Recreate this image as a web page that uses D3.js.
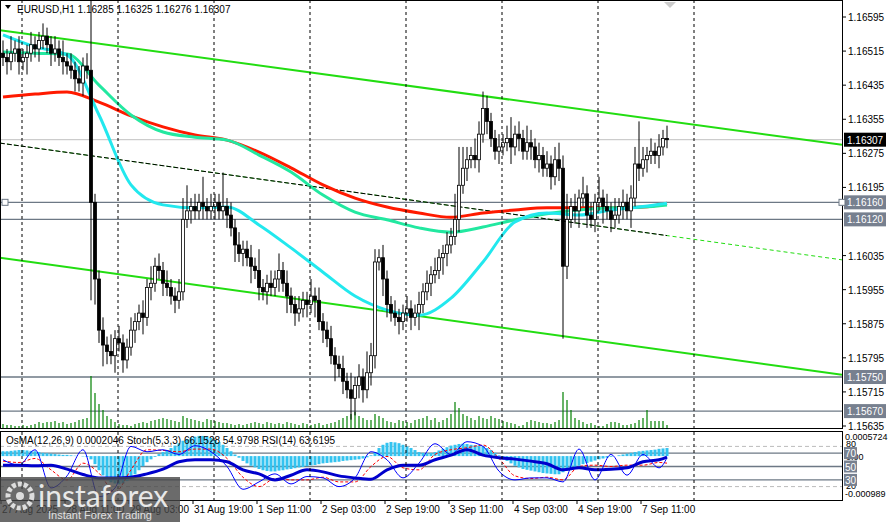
<!DOCTYPE html>
<html>
<head>
<meta charset="utf-8">
<script src="https://cdn.jsdelivr.net/npm/d3@7"></script>
<style>
  body { margin: 0; background: #fff; }
  svg { display: block; font-family: "Liberation Sans", Arial, sans-serif; }
</style>
</head>
<body>
<svg id="chart" width="888" height="522"></svg>
<script>
// prices are in pips above 1.15000
const closes = [150,149,151,152,149,150,151,153,152,154,155,153,151,152,150,149,
  148,147,145,144,148,147,
  116,98,86,82.5,
  81,80,84,83,79,82,
  86,88,90,89,96,97,101,100,97,96,94,93,95,112,114,
  115,114,116,115,114,115,116,114,115,113,
  110,106,104,105,103,
  101,100,96,95,97,96,98,
  100,97,94,92,
  90,91,93,92,94,93,
  88,86,84,80,78,77,74,72,
  70,73,75,72,76,80,102,103,98,92,
  90,89,88,90,91,89,90,92,
  95,97,99,100,103,104,
  106,108,112,120,124,126,
  127,126,132,138,135,131,128,129,
  130,131,129,132,131,128,130,129,126,127,124,125,122,126,124,
  101,112,
  115,114,117,118,113,112,116,117,115,114,112,113,115,116,114,117,
  125,124,126,127,128,127,129,131,130.7];

const wickUp = [3,2,4,2,3,2,2,3,2,2,3,2,2,3,2,4,2,3,2,3,
  2,3,18,2,2,3,2,4,2,3,2,2,3,2,2,3,2,4,2,3,
  2,3,2,2,3,5,6,2,3,2,6,2,3,2,2,8,2,3,2,3,
  2,2,3,2,5,2,2,3,2,4,2,3,2,2,3,2,2,4,2,3,
  2,2,3,2,2,3,2,4,2,3,2,5,3,3,2,3,2,2,3,2,
  2,3,2,2,3,2,3,2,3,2,2,3,2,6,9,5,3,2,4,3,
  4,3,2,2,3,2,3,5,2,3,2,4,3,2,3,2,3,2,3,4,
  3,6,2,3,2,4,2,3,2,5,2,3,2,4,2,3,2,3,4,10,
  3,2,3,2,3,2,3];
const wickDn = [2,3,2,2,3,2,4,2,2,3,2,2,3,2,2,3,2,2,3,2,
  3,2,23,6,3,5,3,2,4,2,3,2,2,3,2,4,2,3,2,2,
  3,2,2,3,2,2,2,3,2,2,3,2,2,3,2,2,3,2,4,2,
  3,2,4,2,3,2,3,2,2,3,2,4,2,3,2,2,3,2,4,2,
  3,2,2,4,2,3,2,5,4,3,3,2,3,3,2,4,3,2,2,3,
  2,2,3,2,4,2,2,3,2,2,4,3,2,2,3,2,3,2,2,3,
  2,3,2,2,3,2,2,4,2,3,2,2,3,2,3,2,2,3,2,3,
  17,3,2,3,4,2,3,2,3,2,4,2,3,2,2,3,2,4,2,3,
  2,3,2,2,3,2,2];

const volumes = [4,3,3,2,2,3,2,3,4,6,5,6,6,7,5,6,4,5,6,8,9,10,
  52,35,24,18,12,9,6,4,3,
  3,2,4,5,6,5,7,8,9,10,9,8,7,6,12,10,9,8,7,6,9,8,7,6,5,5,4,3,4,3,
  4,5,6,5,4,6,5,4,5,4,6,5,4,3,5,4,3,4,5,3,4,5,6,8,10,12,14,16,12,10,
  8,8,14,12,10,7,6,5,8,7,6,5,8,9,10,12,8,10,6,8,10,14,26,20,14,12,10,8,12,10,9,12,
  10,9,7,6,5,4,2,3,6,8,7,6,5,5,4,6,8,36,28,18,10,8,6,4,5,
  3,2,2,4,6,6,5,3,3,4,5,8,10,18,7,7,7,7,3];

// moving averages, read every 8 bars (last point = last bar)
const maFast = [155.3,152.5,150.6,136.5,120.1,115.4,114.7,114.9,110.7,105.3,99.6,94,90.7,89.5,93.5,102,111.4,113.5,113,114.2,115.0,115.8];
const maMid  = [151.3,151.0,150.8,143.5,136.5,132.5,131.3,130.6,127.1,123.1,117.7,113.7,111.9,110,109,110.2,111.9,113.3,114.2,114.7,114.9,115.4];
const maSlow = [140.7,141.4,141.9,139.5,136.3,133.7,131.8,130.6,127.8,124.1,120.1,117,114.9,113.5,112.5,113.5,114.2,114.7,114.7,114.7,114.9,115.8];

// channel anchors: bar index at left and right edge
const chanBars = [-0.75, 209.75];
const chanUpper = [156.4, 129.5];
const chanMiddle = [129.9, 102.5];
const chanLower = [103.0, 75.5];

const levels = [1.16160, 1.16120, 1.15750, 1.15670];
const lastPrice = 1.16307;
const priceTicks = [1.16595,1.16515,1.16435,1.16355,1.16275,1.16195,1.16035,1.15955,1.15875,1.15795,1.15715,1.15635];

// indicators: OsMA per bar (x1e-5), stoch and rsi every 4 bars
const osma = [12,12,13,14,15,15,14,13,12,10,8,7,6,5,4,
  3,3,2,1,0,-1,-2,
  -8,-20,-35,-48,-58,-65,-68,-70,-68,-62,-55,
  -45,-35,-25,-15,-8,-2,5,10,
  15,20,26,32,38,42,46,48,50,50,48,45,40,35,28,20,12,
  4,-4,-12,-18,-24,-28,-32,-35,-37,-38,-38,-36,-35,-33,-32,-30,-28,-27,
  -25,-23,-22,-20,-18,-17,-16,-15,-14,-12,-11,-10,-9,-8,-6,-3,
  2,10,20,28,33,35,34,32,28,24,20,15,10,
  8,7,8,10,14,18,22,26,28,30,31,30,28,27,26,24,20,15,
  8,2,-5,-12,-18,-24,-28,-32,-34,-36,-38,-40,-42,-43,-44,-45,-45,-40,-36,
  -32,-28,-24,-20,-17,-14,-11,-8,-6,-4,-2,0,2,4,6,
  8,10,12,13,14,15,16,18,19,20];
const stochMain = [60,52,75,18,36,75,5,18,80,72,75,68,81,72,50,16,27,39,24,35,33,20,33,72,60,33,55,84,68,87,80,43,30,33,33,27,76,30,68,37,68,48,63];
const stochSignal = [58,56,62,45,30,55,40,12,45,75,74,72,76,76,62,34,20,32,30,30,34,27,27,50,65,48,45,68,75,78,82,62,36,32,34,30,50,52,50,52,52,56,55];
const rsi = [52,52,51,52,46,38,33,33,34,39,46,57,60,60,57,45,39,30,37,45,42,36,33,31,45,52,52,60,67,75,67,63,61,58,54,45,48,45,46,48,57,60,64];
const oscLevels = [80, 70, 50, 30, 20];

const timeLabels = ["27 Aug 2025","28 Aug 11:00","29 Aug 03:00","31 Aug 19:00","1 Sep 11:00","2 Sep 03:00","2 Sep 19:00","3 Sep 11:00","4 Sep 03:00","4 Sep 19:00","7 Sep 11:00"];

const svg = d3.select("#chart");
const W = 842, mainBottom = 428, panelTop = 431, panelBottom = 500;
const nBars = closes.length;
const pr = p => 1.15 + p / 10000;

const x = d3.scaleLinear().domain([0, nBars - 1]).range([3, 667]);
const y = d3.scaleLinear().domain([1.15635, 1.16595]).range([426, 17]);
const yOsc = d3.scaleLinear().domain([0, 100]).range([500, 433]);
const yOsma = d3.scaleLinear().domain([-0.000989, 0.0005724]).range([496, 433]);

svg.append("clipPath").attr("id", "mc").append("rect").attr("x", 0).attr("y", 0).attr("width", W).attr("height", mainBottom);
svg.append("clipPath").attr("id", "pc").append("rect").attr("x", 0).attr("y", panelTop).attr("width", W).attr("height", panelBottom - panelTop);

const main = svg.append("g").attr("clip-path", "url(#mc)");
const panel = svg.append("g").attr("clip-path", "url(#pc)");

// day separators
d3.range(0, 8).forEach(k => {
  const gx = 22 + 96 * k;
  svg.append("line").attr("x1", gx).attr("x2", gx).attr("y1", 0).attr("y2", panelBottom)
    .attr("stroke", "#000").attr("stroke-dasharray", "3,3").attr("stroke-width", 1);
});

// horizontal levels
main.append("line").attr("x1", 0).attr("x2", W).attr("y1", y(lastPrice)).attr("y2", y(lastPrice)).attr("stroke", "#c0c0c0");
levels.forEach(l => {
  main.append("line").attr("x1", 0).attr("x2", W).attr("y1", y(l)).attr("y2", y(l)).attr("stroke", "#6d7885").attr("stroke-width", 1.3);
});
main.append("rect").attr("x", 2).attr("y", y(1.16160) - 3).attr("width", 6).attr("height", 6).attr("fill", "#fff").attr("stroke", "#6d7885");

// volumes
const vy = d3.scaleLinear().domain([0, 52]).range([mainBottom, 376]);
main.selectAll(".vol").data(volumes).join("line")
  .attr("x1", (d, i) => x(i)).attr("x2", (d, i) => x(i))
  .attr("y1", mainBottom).attr("y2", d => vy(d))
  .attr("stroke", "#008000").attr("stroke-width", 1.2);

// channel
const chan = (vals, color, width, dash) => {
  main.append("line")
    .attr("x1", x(chanBars[0])).attr("y1", y(pr(vals[0])))
    .attr("x2", x(chanBars[1])).attr("y2", y(pr(vals[1])))
    .attr("stroke", color).attr("stroke-width", width).attr("stroke-dasharray", dash);
};
chan(chanUpper, "#22dd11", 2, null);
chan(chanLower, "#22dd11", 2, null);
chan(chanMiddle, "#22dd11", 1, "4,3");
const midAt = b => chanMiddle[0] + (chanMiddle[1] - chanMiddle[0]) * (b - chanBars[0]) / (chanBars[1] - chanBars[0]);
main.append("line").attr("x1", 0).attr("y1", y(pr(chanMiddle[0])))
  .attr("x2", x(nBars - 1)).attr("y2", y(pr(midAt(nBars - 1))))
  .attr("stroke", "#000").attr("stroke-width", 1).attr("stroke-dasharray", "5,2");

// moving averages
const maIdx = (d, i, arr) => i === arr.length - 1 ? nBars - 1 : i * 8;
const maLine = d3.line().x((d, i, arr) => x(maIdx(d, i, arr))).y(d => y(pr(d))).curve(d3.curveMonotoneX);
[[maSlow, "#ff1a00"], [maMid, "#22e8a0"], [maFast, "#22e8ee"]].forEach(([arr, c]) => {
  main.append("path").attr("d", maLine(arr)).attr("fill", "none").attr("stroke", c).attr("stroke-width", 3);
});

// candles
const candles = main.selectAll(".c").data(closes).join("g");
candles.each(function (c, i) {
  const o = i === 0 ? 151 : closes[i - 1];
  const hi = Math.max(o, c) + wickUp[i], lo = Math.min(o, c) - wickDn[i];
  const g = d3.select(this);
  g.append("line").attr("x1", x(i)).attr("x2", x(i)).attr("y1", y(pr(hi))).attr("y2", y(pr(lo))).attr("stroke", "#000");
  const top = y(pr(Math.max(o, c))), bot = y(pr(Math.min(o, c)));
  g.append("rect").attr("x", x(i) - 1.5).attr("y", top).attr("width", 3).attr("height", Math.max(0.8, bot - top))
    .attr("fill", c >= o ? "#fff" : "#000").attr("stroke", "#000").attr("stroke-width", 0.8);
});

// indicator panel
oscLevels.forEach(l => {
  const dashed = l === 80 || l === 20;
  panel.append("line").attr("x1", 0).attr("x2", W).attr("y1", yOsc(l)).attr("y2", yOsc(l))
    .attr("stroke", dashed ? "#bbb" : "#6d7885").attr("stroke-width", dashed ? 1 : 1.3)
    .attr("stroke-dasharray", dashed ? "4,3" : null);
});
panel.selectAll(".os").data(osma).join("rect")
  .attr("x", (d, i) => x(i) - 1.5).attr("width", 3)
  .attr("y", d => Math.min(yOsma(d / 1e5), yOsma(0)))
  .attr("height", d => Math.abs(yOsma(d / 1e5) - yOsma(0)))
  .attr("fill", "#33c3f0");
const oscIdx = i => Math.min(i * 4, nBars - 1);
const oscLine = d3.line().x((d, i) => x(oscIdx(i))).y(d => yOsc(d)).curve(d3.curveMonotoneX);
panel.append("path").attr("d", oscLine(stochSignal)).attr("fill", "none").attr("stroke", "#ff0000").attr("stroke-dasharray", "3,2");
panel.append("path").attr("d", oscLine(stochMain)).attr("fill", "none").attr("stroke", "#0000ff");
panel.append("path").attr("d", oscLine(rsi)).attr("fill", "none").attr("stroke", "#0000cc").attr("stroke-width", 3);

// frames
svg.append("rect").attr("x", 0.5).attr("y", 0.5).attr("width", W).attr("height", mainBottom).attr("fill", "none").attr("stroke", "#000");
svg.append("rect").attr("x", 0.5).attr("y", panelTop + 0.5).attr("width", W).attr("height", panelBottom - panelTop).attr("fill", "none").attr("stroke", "#000");

// right price axis
const axisG = svg.append("g").attr("font-size", 10);
priceTicks.forEach(t => {
  axisG.append("line").attr("x1", W).attr("x2", W + 4).attr("y1", y(t)).attr("y2", y(t)).attr("stroke", "#000");
  axisG.append("text").attr("x", W + 6).attr("y", y(t) + 4).text(t.toFixed(5));
});
const box = (val, yy, bg) => {
  axisG.append("rect").attr("x", W + 2).attr("y", yy - 7).attr("width", 42).attr("height", 14).attr("fill", bg);
  axisG.append("text").attr("x", W + 5).attr("y", yy + 4).attr("fill", "#fff").text(val);
};
box(lastPrice.toFixed(5), y(lastPrice), "#000");
levels.forEach(l => box(l.toFixed(5), y(l), "#77808f"));
svg.append("rect").attr("x", W - 3).attr("y", y(1.16160) - 3).attr("width", 6).attr("height", 6).attr("fill", "#fff").attr("stroke", "#6d7885");

// panel axis
const pa = svg.append("g").attr("font-size", 9);
pa.append("text").attr("x", W + 3).attr("y", 440).text("0.0005724");
pa.append("text").attr("x", W + 4).attr("y", yOsc(80) + 1).text("80");
pa.append("text").attr("x", W + 4).attr("y", yOsma(0) + 4).text("0.00");
pa.append("text").attr("x", W + 4).attr("y", yOsc(20) + 2).text("20");
pa.append("text").attr("x", W + 3).attr("y", 497).text("-0.000989");
[70, 50, 30].forEach(l => {
  pa.append("rect").attr("x", W + 2).attr("y", yOsc(l) - 6).attr("width", 13).attr("height", 12).attr("fill", "#77808f");
  pa.append("text").attr("x", W + 3).attr("y", yOsc(l) + 4).attr("fill", "#fff").attr("font-size", 10).text(l);
});

// time axis
timeLabels.forEach((t, k) => {
  const tx = x(k * 16) - 2;
  svg.append("line").attr("x1", tx).attr("x2", tx).attr("y1", panelBottom).attr("y2", panelBottom + 4).attr("stroke", "#000");
  svg.append("text").attr("x", tx + 1).attr("y", 513).attr("font-size", 10).text(t);
});

// headers
svg.append("path").attr("d", "M5,5 L11,5 L8,9 Z").attr("fill", "#000");
svg.append("text").attr("x", 17).attr("y", 13).attr("font-size", 10).text("EURUSD,H1  1.16285 1.16325 1.16276 1.16307");
svg.append("text").attr("x", 6).attr("y", 444).attr("font-size", 10).text("OsMA(12,26,9) 0.0002046  Stoch(5,3,3) 66.1528 54.9798  RSI(14) 63.6195");
svg.append("path").attr("d", "M664,2 L676,2 L670,8 Z").attr("fill", "#ccc");

// watermark
const wm = svg.append("g");
wm.append("rect").attr("x", 0).attr("y", 477).attr("width", 180).attr("height", 45).attr("fill", "rgba(70,70,70,0.8)");
wm.append("circle").attr("cx", 20).attr("cy", 496).attr("r", 12).attr("fill", "none").attr("stroke", "#ddd").attr("stroke-width", 5).attr("stroke-dasharray", "4,2");
wm.append("circle").attr("cx", 20).attr("cy", 496).attr("r", 4).attr("fill", "#ddd");
wm.append("text").attr("x", 38).attr("y", 507).attr("font-size", 30).attr("fill", "#e8e8e8").attr("font-family", "Lato, sans-serif").text("instaforex");
wm.append("text").attr("x", 48).attr("y", 519).attr("font-size", 11).attr("fill", "#e0e0e0").text("Instant Forex Trading");
</script>
</body>
</html>
